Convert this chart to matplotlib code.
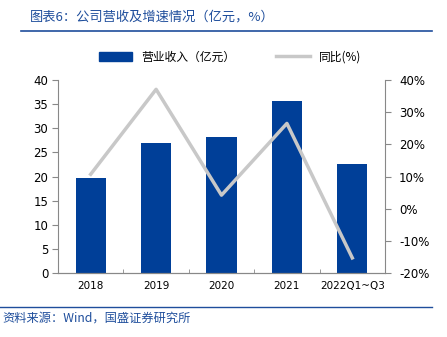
import matplotlib
matplotlib.use("Agg")
import matplotlib.pyplot as plt
from matplotlib.lines import Line2D
from matplotlib.patches import Patch
import numpy as np

plt.rcParams['font.family'] = ['DejaVu Sans', 'Noto Sans CJK SC']

categories = ["2018", "2019", "2020", "2021", "2022Q1~Q3"]
revenue = [19.7, 27.0, 28.1, 35.6, 22.5]
yoy = [10.7, 37.1, 4.2, 26.5, -15.3]
left_ticks = [0, 5, 10, 15, 20, 25, 30, 35, 40]
right_ticks = [-20, -10, 0, 10, 20, 30, 40]

BLUE = "#003f98"
GRAY = "#c8c8c8"
AX = "#888888"
TITLE_BLUE = "#1f4e9c"

fig = plt.figure(figsize=(4.47, 3.37), dpi=100)
W, H = 447, 337
ax = fig.add_axes([58 / W, 1 - 273 / H, (385 - 58) / W, (273 - 80) / H])
ax2 = ax.twinx()

x = np.arange(len(categories))
ax.bar(x, revenue, width=0.46, color=BLUE, zorder=2)
ax.set_xlim(-0.5, len(categories) - 0.5)
ax.set_ylim(0, 40)
ax.set_yticks(left_ticks)
ax.set_xticks(x)
ax.set_xticklabels(categories)
ax.set_xticks(np.arange(len(categories) + 1) - 0.5, minor=True)
ax.tick_params(axis='x', which='major', length=0, labelsize=7.5, pad=6)
ax.tick_params(axis='x', which='minor', length=3, color=AX, direction='in')
ax.tick_params(axis='y', length=4, color=AX, labelsize=8.5, pad=3)

ax2.plot(x, yoy, color=GRAY, linewidth=2.5, zorder=3)
ax2.set_ylim(-20, 40)
ax2.set_yticks(right_ticks)
ax2.set_yticklabels([f"{t}%" for t in right_ticks])
ax2.tick_params(axis='y', length=4, color=AX, labelsize=8.5, pad=6)

for a in (ax, ax2):
    a.spines["top"].set_visible(False)
    for s in ["left", "right", "bottom"]:
        a.spines[s].set_color(AX)
        a.spines[s].set_linewidth(0.8)
ax.spines["right"].set_visible(False)
ax2.spines["left"].set_visible(False)

handles = [Patch(facecolor=BLUE, edgecolor=BLUE),
           Line2D([0], [0], color=GRAY, linewidth=2.5)]
labels = ["营业收入（亿元）", "同比(%)"]
fig.legend(handles, labels, loc='center', bbox_to_anchor=(230 / W, 1 - 57 / H),
           ncol=2, frameon=False, handlelength=2.8, columnspacing=3.5,
           prop={'family': ['Noto Sans CJK SC', 'DejaVu Sans'], 'size': 8.5})

fig.text(30 / W, 1 - 17 / H, "图表6：公司营收及增速情况（亿元，%）", color=TITLE_BLUE,
         fontsize=9.5, style='italic', va='center', ha='left',
         family=['Noto Sans CJK SC', 'DejaVu Sans'])
fig.add_artist(Line2D([21 / W, 432 / W], [1 - 31 / H, 1 - 31 / H], color=TITLE_BLUE, linewidth=1.2))
fig.add_artist(Line2D([0 / W, 432 / W], [1 - 307 / H, 1 - 307 / H], color=TITLE_BLUE, linewidth=1.0))
fig.text(2 / W, 1 - 318 / H, "资料来源：Wind，国盛证券研究所", color=TITLE_BLUE,
         fontsize=8.8, style='italic', va='center', ha='left',
         family=['Noto Sans CJK SC', 'DejaVu Sans'])

fig.savefig("out.png", dpi=100)
